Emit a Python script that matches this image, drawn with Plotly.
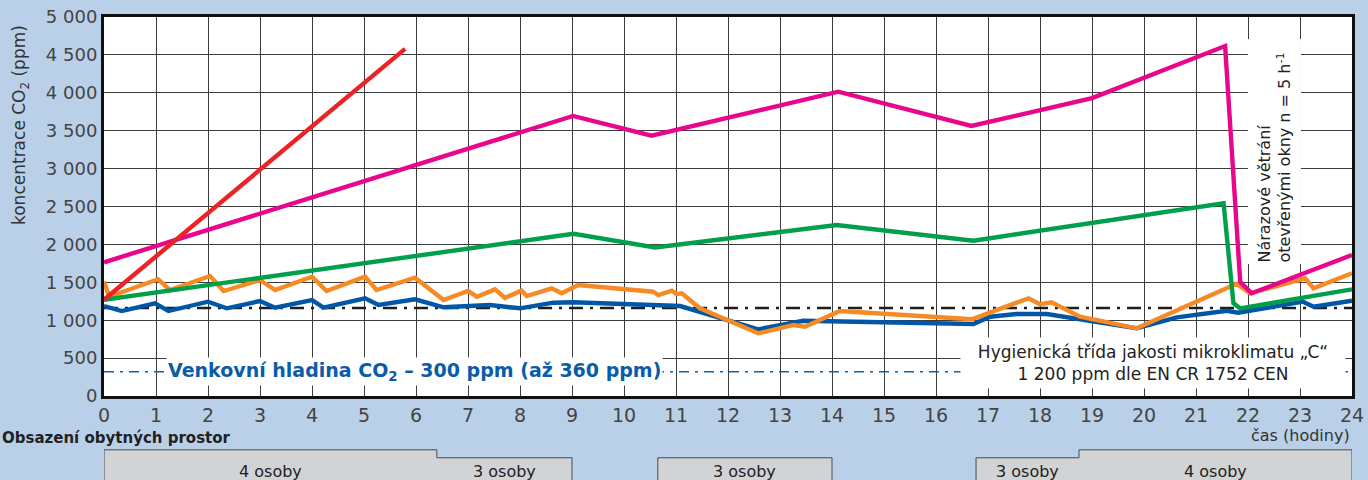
import plotly.graph_objects as go

# hours / ppm
red_x = [0, 5.79]
red_y = [1270, 4580]

magenta_x = [0, 9.02, 10.53, 14.12, 16.68, 19.0, 21.56, 21.85, 22.07, 24]
magenta_y = [1764, 3694, 3434, 4015, 3562, 3930, 4617, 1508, 1355, 1860]

green_x = [0, 9.03, 10.6, 14.09, 16.72, 21.53, 21.72, 21.85, 24]
green_y = [1270, 2140, 1960, 2256, 2049, 2542, 1223, 1157, 1407]

orange_x = [0, 0.1, 1.04, 1.27, 2.04, 2.3, 3.0, 3.29, 4.0, 4.28, 5.02, 5.24, 5.98, 6.53,
            7.0, 7.17, 7.52, 7.71, 8.03, 8.13, 8.61, 8.8, 9.12, 10.56, 10.66, 10.92, 11.01,
            11.11, 11.46, 12.58, 13.26, 13.48, 14.15, 16.69, 17.78, 18.0, 18.22, 18.77,
            19.86, 20.95, 21.78, 22.04, 23.1, 23.26, 24]
orange_y = [1510, 1310, 1540, 1398, 1583, 1385, 1530, 1398, 1574, 1385, 1574, 1398, 1561, 1266,
            1385, 1310, 1407, 1295, 1390, 1319, 1420, 1355, 1464, 1376, 1332, 1390, 1346,
            1355, 1157, 827, 937, 915, 1121, 1012, 1289, 1210, 1236, 1046,
            893, 1223, 1480, 1355, 1553, 1421, 1620]

blue_x = [0, 0.34, 0.98, 1.24, 2.0, 2.36, 3.0, 3.29, 4.0, 4.22, 5.02, 5.28, 5.98, 6.53,
          7.42, 8.0, 8.64, 9.02, 11.08, 12.58, 13.45, 16.72, 17.04, 17.55, 18.13, 19.86,
          20.63, 21.59, 21.81, 23.06, 23.26, 24]
blue_y = [1187, 1121, 1223, 1121, 1244, 1157, 1253, 1165, 1266, 1165, 1289, 1200, 1275, 1170,
          1200, 1157, 1231, 1236, 1187, 880, 993, 950, 1046, 1082, 1082, 893,
          1038, 1125, 1099, 1244, 1178, 1257]

limit_level = 1160      # hygienic class C line
outdoor_level = 320     # outdoor CO2

occ_start = [0, 6.4, 10.65, 16.77, 18.75]
occ_end = [6.4, 9.0, 14.0, 18.75, 24]
occ_people = [4, 3, 3, 3, 4]

y_ticks = [0, 500, 1000, 1500, 2000, 2500, 3000, 3500, 4000, 4500, 5000]
x_ticks = list(range(0, 25))

FONT = "DejaVu Sans"
BG = "#bad0e9"

fig = go.Figure()

fig.add_trace(go.Scatter(x=[0, 24], y=[outdoor_level] * 2, mode="lines",
                         line=dict(color="#0a62b0", width=1.6, dash="10px,6px,3px,6px")))
fig.add_trace(go.Scatter(x=[0, 24], y=[limit_level] * 2, mode="lines",
                         line=dict(color="#1e1e1e", width=2.6, dash="14px,7px,3px,7px")))

series = [
    (blue_x, blue_y, "#0057a8"),
    (orange_x, orange_y, "#f68a24"),
    (green_x, green_y, "#00a04b"),
    (magenta_x, magenta_y, "#e8078c"),
    (red_x, red_y, "#ec2227"),
]
for xs, ys, col in series:
    fig.add_trace(go.Scatter(x=xs, y=ys, mode="lines",
                             line=dict(color=col, width=4.4), cliponaxis=False))

# occupancy boxes under the chart (paper y below the plot)
tops = {4: -0.142, 3: -0.163}
bottom = -0.3
groups = []
for s, e, p in zip(occ_start, occ_end, occ_people):
    if groups and abs(groups[-1][-1][1] - s) < 1e-9:
        groups[-1].append((s, e, p))
    else:
        groups.append([(s, e, p)])
for g in groups:
    path = f"M {g[0][0]},{bottom} "
    for s, e, p in g:
        path += f"L {s},{tops[p]} L {e},{tops[p]} "
    path += f"L {g[-1][1]},{bottom} Z"
    fig.add_shape(type="path", path=path, xref="x", yref="paper",
                  fillcolor="#d2d3d5", line=dict(color="#4a4a4a", width=1))
for s, e, p in zip(occ_start, occ_end, occ_people):
    fig.add_annotation(x=(s + e) / 2, y=-0.198, xref="x", yref="paper", yanchor="middle",
                       text=f"{p} osoby", showarrow=False,
                       font=dict(family=FONT, size=16, color="#222"))

fig.add_annotation(x=5.98, y=outdoor_level, xref="x", yref="y",
                   text="Venkovní hladina CO<sub>2</sub> – 300 ppm (až 360 ppm)",
                   showarrow=False, bgcolor="white", borderpad=1,
                   font=dict(family=FONT, size=19, color="#0a5ca8", weight="bold"))
fig.add_annotation(x=20.17, y=440, xref="x", yref="y",
                   text="Hygienická třída jakosti mikroklimatu „C“<br>1 200 ppm dle EN CR 1752 CEN",
                   showarrow=False, bgcolor="white", width=382, height=48,
                   font=dict(family=FONT, size=17, color="#222"))
fig.add_annotation(x=22.5, y=3225, xref="x", yref="y",
                   text="Nárazové větrání<br>otevřenými okny n = 5 h<sup>-1</sup>",
                   showarrow=False, bgcolor="white", textangle=-90, align="left",
                   width=222, height=50,
                   font=dict(family=FONT, size=16, color="#222"))

fig.add_annotation(x=-0.0673, y=0.715, xref="paper", yref="paper",
                   xanchor="center", yanchor="middle",
                   text="koncentrace CO<sub>2</sub> (ppm)", textangle=-90, showarrow=False,
                   font=dict(family=FONT, size=17, color="#333"))
fig.add_annotation(x=1.0, y=-0.105, xref="paper", yref="paper",
                   xanchor="right", yanchor="middle",
                   text="čas (hodiny)", showarrow=False,
                   font=dict(family=FONT, size=16, color="#333"))
fig.add_annotation(x=-0.0833, y=-0.11, xref="paper", yref="paper",
                   xanchor="left", yanchor="middle",
                   text="Obsazení obytných prostor", showarrow=False,
                   font=dict(family=FONT, size=15, color="#222", weight="bold"))

fig.update_xaxes(range=[0, 24], tickvals=x_ticks, showgrid=True, gridcolor="#3c3c3c",
                 gridwidth=1, showline=True, linecolor="#111", linewidth=3, mirror=True,
                 zeroline=False, automargin=False,
                 tickfont=dict(family=FONT, size=19, color="#444"))
fig.update_yaxes(range=[0, 5000], tickvals=y_ticks,
                 ticktext=[f"{v:,}".replace(",", " ") for v in y_ticks],
                 showgrid=True, gridcolor="#3c3c3c", gridwidth=1, showline=True,
                 linecolor="#111", linewidth=3, mirror=True, zeroline=False, automargin=False,
                 tickfont=dict(family=FONT, size=18, color="#444"))

fig.update_layout(width=1368, height=480, showlegend=False,
                  margin=dict(l=104, r=16, t=17, b=84),
                  paper_bgcolor=BG, plot_bgcolor="white")

fig.write_html("out.html", config={"displayModeBar": False},
               post_script="document.body.style.margin='0';")
